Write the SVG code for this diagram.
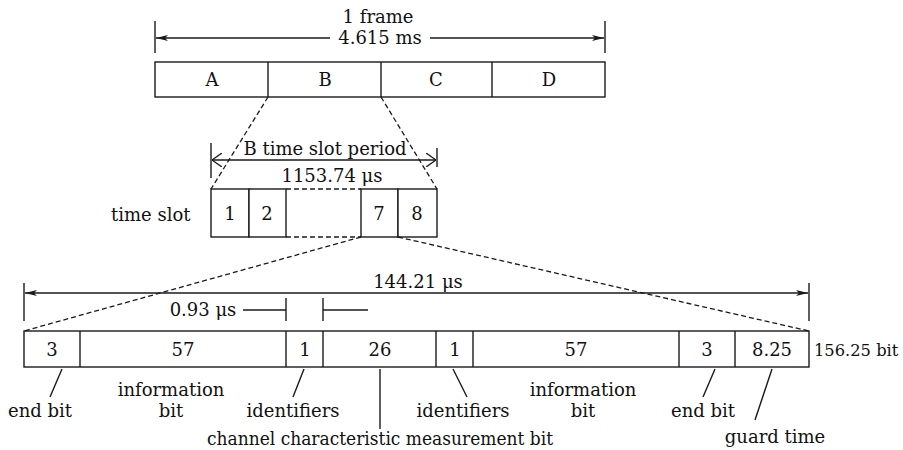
<svg xmlns="http://www.w3.org/2000/svg" width="903" height="450" viewBox="0 0 903 450">
  <style>
    .ln { stroke: #1a1a1a; stroke-width: 1.4; fill: none; }
    .dash { stroke: #1a1a1a; stroke-width: 1.3; fill: none; stroke-dasharray: 5 3; }
    .box { stroke: #1a1a1a; stroke-width: 1.4; fill: #ffffff; }
    text { font-family: "DejaVu Serif", "Liberation Serif", serif; font-size: 18px; fill: #111111; }
    .c { text-anchor: middle; }
  </style>
  <defs>
    <marker id="solidArrow" viewBox="0 0 12 6" refX="12" refY="3" markerWidth="12" markerHeight="6" markerUnits="userSpaceOnUse" orient="auto-start-reverse">
      <path d="M0,0 L12,3 L0,6 L3,3 Z" fill="#1a1a1a"/>
    </marker>
    <marker id="openArrow" viewBox="0 0 10 14" refX="10" refY="7" markerWidth="10" markerHeight="14" markerUnits="userSpaceOnUse" orient="auto-start-reverse">
      <path d="M0,0 L10,7 L0,14" fill="none" stroke="#1a1a1a" stroke-width="1.4"/>
    </marker>
  </defs>
  <rect width="903" height="450" fill="#ffffff"/>

  <!-- frame of four slots -->
  <g id="frame">
    <rect class="box" x="155" y="62" width="450" height="35"/>
    <line class="ln" x1="268" y1="62" x2="268" y2="97"/>
    <line class="ln" x1="381" y1="62" x2="381" y2="97"/>
    <line class="ln" x1="492" y1="62" x2="492" y2="97"/>
    <text class="c" x="212" y="86">A</text>
    <text class="c" x="325" y="86">B</text>
    <text class="c" x="436" y="86">C</text>
    <text class="c" x="549" y="86">D</text>
  </g>

  <!-- time slots of slot B -->
  <g id="timeslots">
    <rect class="box" x="211" y="189" width="38" height="48"/>
    <rect class="box" x="249" y="189" width="37" height="48"/>
    <rect class="box" x="361" y="189" width="37" height="48"/>
    <rect class="box" x="398" y="189" width="39" height="48"/>
    <line class="dash" x1="286" y1="189" x2="361" y2="189"/>
    <line class="dash" x1="286" y1="237" x2="361" y2="237"/>
    <text class="c" x="230" y="220">1</text>
    <text class="c" x="267" y="220">2</text>
    <text class="c" x="379" y="220">7</text>
    <text class="c" x="417" y="220">8</text>
    <text x="111" y="221">time slot</text>
  </g>

  <!-- burst of one time slot -->
  <g id="burst">
    <rect class="box" x="24" y="331" width="785" height="36"/>
    <line class="ln" x1="80" y1="331" x2="80" y2="367"/>
    <line class="ln" x1="286" y1="331" x2="286" y2="367"/>
    <line class="ln" x1="323" y1="331" x2="323" y2="367"/>
    <line class="ln" x1="436" y1="331" x2="436" y2="367"/>
    <line class="ln" x1="473" y1="331" x2="473" y2="367"/>
    <line class="ln" x1="679" y1="331" x2="679" y2="367"/>
    <line class="ln" x1="735" y1="331" x2="735" y2="367"/>
    <text class="c" x="52" y="356">3</text>
    <text class="c" x="183" y="356">57</text>
    <text class="c" x="305" y="356">1</text>
    <text class="c" x="380" y="356">26</text>
    <text class="c" x="455" y="356">1</text>
    <text class="c" x="576" y="356">57</text>
    <text class="c" x="707" y="356">3</text>
    <text class="c" x="772" y="356">8.25</text>
    <text x="814" y="356" style="font-size:16.3px">156.25 bit</text>
  </g>

  <!-- field labels -->
  <g id="labels">
    <text class="c" x="40" y="417">end bit</text>
    <text class="c" x="171" y="396">information</text>
    <text class="c" x="171" y="417">bit</text>
    <text class="c" x="293" y="417">identifiers</text>
    <text class="c" x="380" y="445" textLength="346" lengthAdjust="spacingAndGlyphs">channel characteristic measurement bit</text>
    <text class="c" x="463" y="417">identifiers</text>
    <text class="c" x="583" y="396">information</text>
    <text class="c" x="583" y="417">bit</text>
    <text class="c" x="703" y="417">end bit</text>
    <text class="c" x="775" y="443">guard time</text>
  </g>

  <!-- dimensions -->
  <g id="dimensions">
    <line class="ln" x1="155" y1="21" x2="155" y2="53"/>
    <line class="ln" x1="605" y1="21" x2="605" y2="53"/>
    <line class="ln" x1="330" y1="38" x2="156" y2="38" marker-end="url(#solidArrow)"/>
    <line class="ln" x1="430" y1="38" x2="604" y2="38" marker-end="url(#solidArrow)"/>
    <text class="c" x="378" y="23">1 frame</text>
    <text class="c" x="380" y="44">4.615 ms</text>

    <line class="ln" x1="211" y1="143" x2="211" y2="178"/>
    <line class="ln" x1="437" y1="148" x2="437" y2="167"/>
    <line class="ln" x1="212" y1="160" x2="436" y2="160" marker-start="url(#openArrow)" marker-end="url(#openArrow)"/>
    <text class="c" x="325" y="155">B time slot period</text>
    <text class="c" x="332" y="182">1153.74 μs</text>

    <line class="ln" x1="24" y1="283" x2="24" y2="321"/>
    <line class="ln" x1="809" y1="283" x2="809" y2="321"/>
    <line class="ln" x1="25" y1="293" x2="808" y2="293" marker-start="url(#solidArrow)" marker-end="url(#solidArrow)"/>
    <text class="c" x="418" y="288">144.21 μs</text>

    <line class="ln" x1="286" y1="298" x2="286" y2="321"/>
    <line class="ln" x1="323" y1="298" x2="323" y2="321"/>
    <line class="ln" x1="243" y1="310" x2="286" y2="310"/>
    <line class="ln" x1="323" y1="310" x2="368" y2="310"/>
    <text class="c" x="203" y="316">0.93 μs</text>
  </g>

  <!-- connectors -->
  <g id="connectors">
    <line class="dash" x1="268" y1="97" x2="211" y2="189"/>
    <line class="dash" x1="381" y1="97" x2="437" y2="189"/>
    <line class="dash" x1="361" y1="237" x2="24" y2="331"/>
    <line class="dash" x1="398" y1="237" x2="809" y2="331"/>
    <line class="ln" x1="62" y1="369" x2="50" y2="397"/>
    <line class="ln" x1="304" y1="369" x2="293" y2="397"/>
    <line class="ln" x1="380" y1="369" x2="380" y2="429"/>
    <line class="ln" x1="453" y1="369" x2="467" y2="397"/>
    <line class="ln" x1="715" y1="369" x2="703" y2="397"/>
    <line class="ln" x1="772" y1="369" x2="755" y2="420"/>
  </g>
</svg>
